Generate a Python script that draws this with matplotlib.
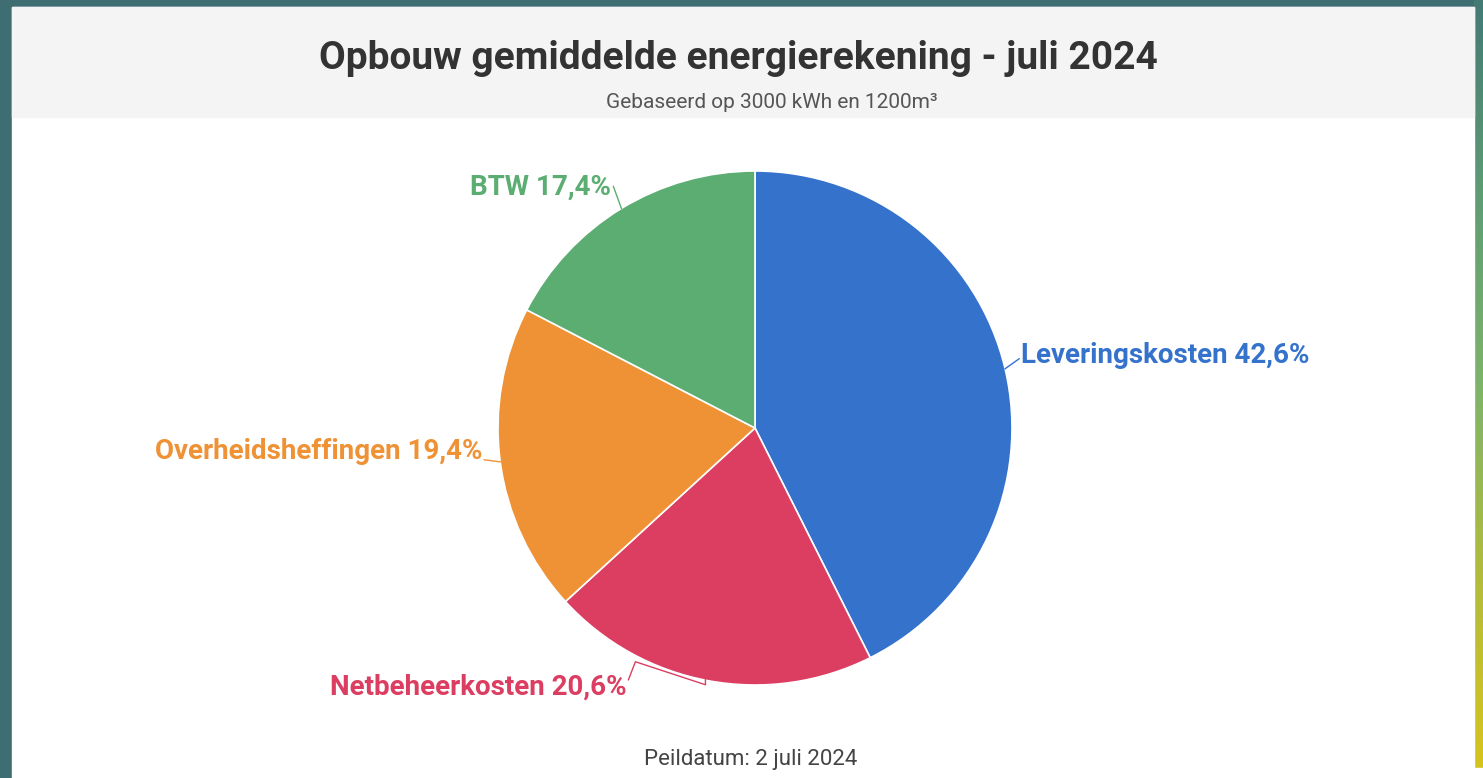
import numpy as np
import matplotlib
matplotlib.use("Agg")
import matplotlib.pyplot as plt
from matplotlib.patches import Rectangle
from matplotlib.colors import LinearSegmentedColormap

plt.rcParams['font.family'] = ['Roboto', 'DejaVu Sans']

# data
categorieen = ['Leveringskosten', 'Netbeheerkosten', 'Overheidsheffingen', 'BTW']
percentages = [42.6, 20.6, 19.4, 17.4]
kleuren = ['#3472CC', '#DC3E62', '#EF9236', '#5BAD72']
titel = 'Opbouw gemiddelde energierekening - juli 2024'
ondertitel = 'Gebaseerd op 3000 kWh en 1200m³'
voetnoot = 'Peildatum: 2 juli 2024'

W, H = 1483, 778
fig = plt.figure(figsize=(W / 100, H / 100), dpi=100)
fig.patch.set_facecolor('#3E6D72')

# achtergrond in pixel coordinaten
bg = fig.add_axes([0, 0, 1, 1])
bg.axis('off')

# gradient strook rechts
grad = np.linspace(0, 1, 256).reshape(-1, 1)
cmap = LinearSegmentedColormap.from_list('g', ['#447A74', '#5E9C74', '#7DB46A', '#B2BC3C', '#D6C41E'])
bg.imshow(grad, extent=(1474, W, 768, 0), aspect='auto', cmap=cmap, zorder=0)
bg.add_patch(Rectangle((1474, 768), 9, 10, color='white', zorder=1))
bg.add_patch(Rectangle((12, 7), 1462, H, color='white', zorder=1))
bg.add_patch(Rectangle((12, 7), 1462, 110, color='#F4F4F4', zorder=2))
bg.set_xlim(0, W)
bg.set_ylim(H, 0)

bg.text(738, 58, titel, ha='center', va='center', fontsize=28,
        fontweight='bold', color='#333333', zorder=3)
bg.text(772, 102, ondertitel, ha='center', va='center', fontsize=15,
        color='#555555', zorder=3)
bg.text(751, 760, voetnoot, ha='center', va='center', fontsize=16,
        color='#444444', zorder=3)

# taartdiagram
cx, cy, R = 755, 428, 257
half = 340
ax = fig.add_axes([(cx - half) / W, 1 - (cy + half) / H, 2 * half / W, 2 * half / H])

wedges, _ = ax.pie(percentages, colors=kleuren, radius=R, startangle=90,
                   counterclock=False, center=(0, 0),
                   wedgeprops=dict(edgecolor='white', linewidth=1.2))
ax.set_xlim(-half, half)
ax.set_ylim(-half, half)
ax.set_aspect('equal')
ax.axis('off')

# labels met verbindingslijnen (Highcharts stijl)
offsets = [(14, 10), (-70, 20), (-16, 2), (-8, 22)]
tekst_dy = [3, 0, 8, -1]
for w, naam, pct, kl, (dx, dy), tdy in zip(wedges, categorieen, percentages, kleuren, offsets, tekst_dy):
    hoek = np.deg2rad((w.theta1 + w.theta2) / 2)
    x0, y0 = R * np.cos(hoek), R * np.sin(hoek)
    rechts = np.cos(hoek) > 0
    tekst = f"{naam} {pct:.1f}%".replace('.', ',')
    if naam == 'Netbeheerkosten':
        xs = [x0 - 3, x0 - 3, x0 - 73, x0 - 80]
        ys = [y0 + 1, y0 - 4, y0 + 19, y0 + 1]
        lx, ly = x0 - 80, y0 - 6
    else:
        lx, ly = x0 + dx, y0 + dy
        xs = [x0, lx]
        ys = [y0, ly]
    ax.plot(xs, ys, color=kl, lw=1)
    ax.text(lx + (2 if rechts else -2), ly + tdy, tekst, ha='left' if rechts else 'right',
            va='center', fontsize=20, fontweight='bold', color=kl)

fig.savefig('out.png', dpi=100, facecolor=fig.get_facecolor())
